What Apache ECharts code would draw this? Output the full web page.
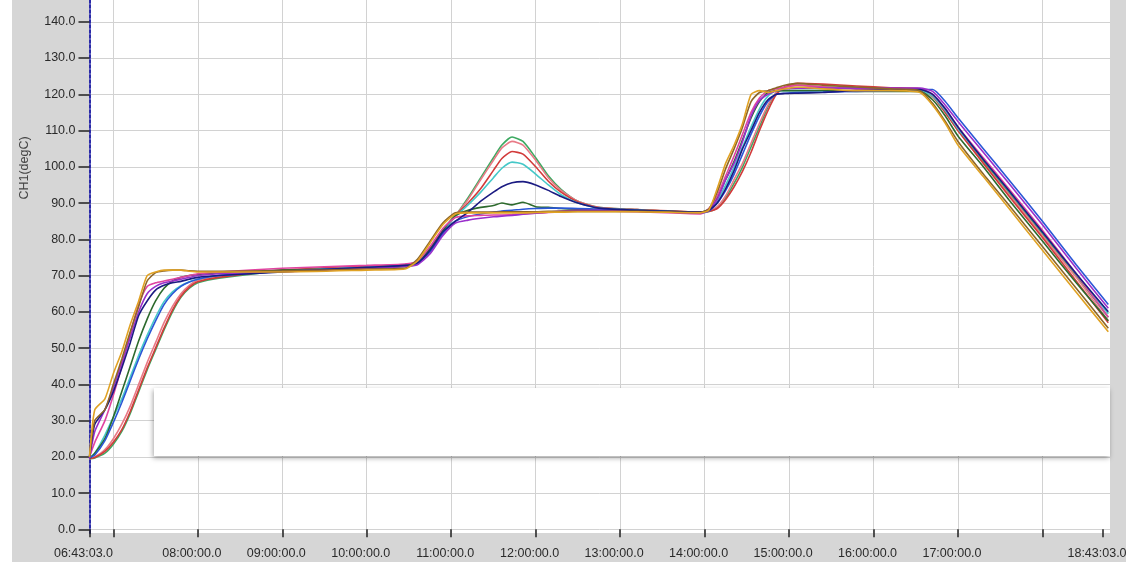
<!DOCTYPE html>
<html>
<head>
<meta charset="utf-8">
<script src="https://cdn.jsdelivr.net/npm/echarts@6/dist/echarts.min.js"></script>
<style>
  html, body { margin: 0; padding: 0; background: #d6d6d6; }
  #chart { width: 1126px; height: 562px; }
</style>
</head>
<body>
<div id="chart"></div>
<script>
// sample times, decimal hours of the day
const times = [
  6.7175, 6.78, 6.9, 7.0, 7.1, 7.2, 7.3, 7.4, 7.5, 7.6,
  7.7, 7.8, 7.9, 8.0, 8.25, 9.0, 10.0, 10.45, 10.6, 10.75,
  10.9, 11.05, 11.2, 11.35, 11.5, 11.6, 11.72, 11.85, 12.0, 12.15,
  12.3, 12.5, 12.75, 13.2, 13.95, 14.05, 14.15, 14.25, 14.35, 14.45,
  14.55, 14.65, 14.75, 14.85, 14.95, 15.1, 15.4, 15.8, 16.2, 16.55,
  16.7, 16.85, 17.0, 17.3, 17.6, 18.0, 18.4, 18.78
];

// temperatures (degC) per channel
const green = [
  19.5, 19.7, 21, 23.5, 27, 32, 38, 44, 49.5, 55,
  60, 64, 66.5, 68, 69.3, 71.3, 72.5, 73, 73.8, 77.5,
  82, 86.5, 91.5, 97, 102.5, 106, 108.2, 107, 102.5, 97.5,
  93.8, 90.5, 88.8, 88.2, 87.5, 87.7, 88.7, 91.5, 95.5, 100,
  105.5, 111, 116.5, 120.5, 122, 122.5, 122, 121.8, 121.5, 121.3,
  119.8, 115.5, 110.5, 101.5, 93, 81.5, 70, 58.5
];
const rose = [
  19.5, 20, 22, 25, 29, 34, 40, 46, 51.5, 57,
  61.5, 65, 67.3, 68.7, 69.8, 71.5, 72.6, 73, 73.8, 77.5,
  82, 86.5, 91, 96.5, 101.8, 105.2, 107, 106, 101.8, 97,
  93.5, 90.5, 88.8, 88.2, 87.5, 87.8, 89, 92, 96.5, 101,
  106.5, 112, 117, 120.5, 122, 122.5, 122, 121.5, 121.3, 121,
  119.3, 115, 110, 101, 92.5, 81, 69.5, 57.5
];
const red = [
  19.5, 19.8, 21.5, 24, 27.5, 32.5, 38.5, 44.5, 50, 55.5,
  60.5, 64.3, 66.8, 68.3, 69.5, 71.5, 72.6, 73, 73.8, 77.5,
  82, 86.5, 90, 94, 99, 102.3, 104.2, 103.5, 100, 96,
  93, 90.3, 88.7, 88.2, 87.5, 87.7, 88.5, 91, 94.5, 98.8,
  104, 110, 115.5, 120, 122, 123, 122.8, 122.3, 121.8, 121.5,
  119.5, 115, 110, 101, 92, 80.5, 68.5, 57
];
const cyan = [
  19.8, 21, 26, 31, 36, 42, 48, 53.5, 58.5, 62.8,
  65.5, 67.2, 68.3, 69, 70, 71.3, 72.3, 72.8, 73.5, 77.5,
  82, 86.3, 89.5, 93, 97, 99.6, 101.3, 100.7, 98, 95,
  92.3, 90, 88.6, 88.1, 87.4, 88, 90.5, 95, 100, 105.5,
  111, 116, 119.5, 121, 121, 121, 121, 121, 121, 121,
  119.5, 115.5, 110.5, 102, 93.5, 82, 70.5, 59.5
];
const darkGreen = [
  19.5, 21, 25, 31, 38, 45, 52, 58, 63, 66.5,
  68.5, 69.5, 70, 70.3, 70.8, 71.5, 72, 72.5, 73.2, 77.5,
  82.5, 86.5, 88, 88.8, 89.3, 90, 89.5, 90.2, 89, 88.8,
  88.5, 88.3, 88.2, 88, 87.4, 88.3, 91.5, 96.5, 101.5, 107.5,
  113.5, 118, 120.5, 121, 121, 121, 121, 120.8, 120.8, 120.8,
  118.5, 114, 108.5, 100, 91, 79.5, 68, 57.5
];
const blue = [
  19.8, 20.5, 24.5, 29.5, 35, 41, 47, 52.5, 57.5, 62,
  65, 67, 68.2, 69, 70, 71.2, 72.2, 72.7, 73.3, 76.5,
  81.5, 85, 86.3, 87, 87.5, 87.8, 88, 88.3, 88.5, 88.6,
  88.6, 88.5, 88.3, 88, 87.3, 87.8, 90, 93.5, 98, 103.5,
  109, 114, 118, 120, 120.3, 120.5, 120.6, 120.8, 121, 121.3,
  121.3, 118, 113.5, 105, 96.5, 85, 73, 62
];
const magenta = [
  20, 24, 30, 37, 45, 54, 62, 67, 68, 68.5,
  69, 69.5, 70, 70.5, 71, 72, 72.8, 73.2, 74, 78,
  83, 86, 86.5, 86.6, 86.7, 86.7, 86.8, 87, 87.2, 87.4,
  87.6, 87.8, 87.8, 87.6, 87, 88.5, 92, 97.5, 103, 109,
  115, 119, 121, 121.5, 122, 122.5, 122, 121.5, 121.5, 121.5,
  120, 116, 111, 102.5, 94, 82.5, 70.5, 58.5
];
const purple = [
  19.5, 27, 33, 39, 46, 53, 60, 65, 67, 68,
  68.5, 69, 69.5, 70, 70.5, 71, 72, 72.5, 73, 76,
  81, 84.5, 85.3, 85.8, 86.2, 86.4, 86.6, 86.9, 87.2, 87.5,
  87.8, 88, 88, 87.8, 87.2, 88, 91, 96.5, 101, 107,
  114, 118.3, 120, 121, 121.5, 121.7, 121.7, 121.7, 121.7, 121.7,
  120.8, 117, 112.5, 104, 95.5, 84, 72, 61
];
const navy = [
  20, 29, 33, 38, 44.5, 51.5, 59, 63, 66, 67.3,
  68, 68.4, 69, 69.5, 70, 71, 72.3, 72.8, 73.5, 77,
  82, 85, 87.5, 90.5, 93, 94.5, 95.6, 95.9, 95, 93.5,
  91.8, 90, 88.6, 88, 87.5, 88, 90, 94, 99, 105,
  110, 115, 118.5, 120, 120.2, 120.3, 120.5, 121, 121.2, 121.3,
  120, 116, 111, 102, 93.5, 82, 70.5, 60
];
const brown = [
  20, 30, 33, 40, 47, 54.5, 61.5, 68.5, 70.8, 71.3,
  71.5, 71.5, 71.3, 71.2, 71.2, 71.3, 71.8, 72, 74.5, 79.5,
  84.5, 87.3, 87.5, 87.5, 87.5, 87.6, 87.6, 87.6, 87.6, 87.7,
  87.7, 87.7, 87.7, 87.7, 87.4, 88.3, 93, 99.5, 105, 111,
  118, 120.5, 121, 121.8, 122.5, 123, 122.5, 122, 121.5, 121,
  117.5, 112.5, 107, 98, 89.5, 78, 66.5, 55.5
];
const orange = [
  20, 33, 36, 43, 49, 56.5, 63, 70, 71, 71.5,
  71.5, 71.5, 71.2, 71, 71, 71, 71.5, 71.8, 74, 79,
  84, 87, 87.3, 87.3, 87.3, 87.3, 87.3, 87.3, 87.4, 87.5,
  87.5, 87.6, 87.6, 87.6, 87.3, 88, 94, 101, 106, 112,
  120, 121, 120.5, 121, 121.5, 122, 121.5, 121, 121, 120.5,
  117, 112, 106, 97.3, 88.6, 77, 65.4, 54.5
];

// axis ticks
const yTicks = [0, 10, 20, 30, 40, 50, 60, 70, 80, 90, 100, 110, 120, 130, 140];
const xTicks = ['06:43:03', '07:00:00', '08:00:00', '09:00:00', '10:00:00', '11:00:00', '12:00:00',
  '13:00:00', '14:00:00', '15:00:00', '16:00:00', '17:00:00', '18:00:00', '18:43:03'];
const xLabels = ['06:43:03', '08:00:00', '09:00:00', '10:00:00', '11:00:00', '12:00:00',
  '13:00:00', '14:00:00', '15:00:00', '16:00:00', '17:00:00', '18:43:03'];
const xGrid = ['07:00:00', '08:00:00', '09:00:00', '10:00:00', '11:00:00', '12:00:00',
  '13:00:00', '14:00:00', '15:00:00', '16:00:00', '17:00:00', '18:00:00'];

function toHours(s) {
  const p = s.split(':').map(Number);
  return p[0] + p[1] / 60 + p[2] / 3600;
}
function pad(n) { return (n < 10 ? '0' : '') + n; }
function fmtTime(v) {
  const t = Math.round(v * 3600);
  return pad(Math.floor(t / 3600)) + ':' + pad(Math.floor(t % 3600 / 60)) + ':' + pad(t % 60) + '.0';
}

const channels = [
  { name: 'green', color: '#3DAA62', values: green },
  { name: 'rose', color: '#E87A86', values: rose },
  { name: 'red', color: '#D23A3A', values: red },
  { name: 'cyan', color: '#45C8C8', values: cyan },
  { name: 'darkGreen', color: '#2D6A2D', values: darkGreen },
  { name: 'blue', color: '#2B57D6', values: blue },
  { name: 'magenta', color: '#E044A0', values: magenta },
  { name: 'purple', color: '#9A2FCB', values: purple },
  { name: 'navy', color: '#1B1B82', values: navy },
  { name: 'brown', color: '#8E6628', values: brown },
  { name: 'orange', color: '#E0A224', values: orange }
];

const xMin = toHours(xTicks[0]);
const xMax = 18.80;
const font = 'Liberation Sans';
const gridColor = '#d2d2d2';

const chart = echarts.init(document.getElementById('chart'));
chart.setOption({
  backgroundColor: '#d6d6d6',
  animation: false,
  grid: {
    left: 89.5, right: 16, top: 0, bottom: 29,
    outerBoundsMode: 'none',
    containLabel: false,
    show: true, backgroundColor: '#ffffff', borderWidth: 0
  },
  xAxis: [
    {
      type: 'value',
      min: xMin,
      max: xMax,
      axisLine: { show: false },
      axisTick: {
        show: true, length: 8,
        customValues: xTicks.map(toHours),
        lineStyle: { color: '#222', width: 1.5 }
      },
      axisLabel: {
        customValues: xLabels.map(toHours),
        formatter: fmtTime,
        margin: 14,
        fontFamily: font, fontSize: 12.5, color: '#2a2a2a',
        padding: [0, 12, 0, 0]
      },
      splitLine: { show: false }
    },
    {
      // hourly grid lines only
      type: 'value',
      min: xMin,
      max: xMax,
      position: 'bottom',
      axisLine: { show: false },
      axisTick: { show: false, customValues: xGrid.map(toHours) },
      axisLabel: { show: false, customValues: xGrid.map(toHours) },
      splitLine: { show: true, lineStyle: { color: gridColor, width: 1 } }
    }
  ],
  yAxis: {
    type: 'value',
    min: -1,
    max: 146,
    axisLine: { show: true, lineStyle: { color: '#2a2aa8', width: 2, type: [3, 2] } },
    axisTick: {
      show: true, length: 11,
      customValues: yTicks,
      lineStyle: { color: '#222', width: 1.5 }
    },
    axisLabel: {
      customValues: yTicks,
      formatter: v => v.toFixed(1),
      margin: 14,
      fontFamily: font, fontSize: 12.5, color: '#2a2a2a'
    },
    splitLine: { show: true, lineStyle: { color: gridColor, width: 1 } }
  },
  graphic: [
    { type: 'rect', z: -10, shape: { x: 0, y: 0, width: 12, height: 562 }, style: { fill: '#ffffff' } },
    {
      type: 'text', x: 25, y: 168, rotation: Math.PI / 2, z: 10,
      style: { text: 'CH1(degC)', fontFamily: font, fontSize: 12.5, fill: '#444', align: 'center', verticalAlign: 'middle' }
    },
    {
      type: 'rect', z: 100,
      shape: { x: 154, y: 388, width: 956, height: 68 },
      style: { fill: '#ffffff', shadowBlur: 5, shadowColor: 'rgba(0,0,0,0.35)', shadowOffsetX: -1, shadowOffsetY: 2 }
    }
  ],
  series: channels.map(c => ({
    name: c.name,
    type: 'line',
    xAxisIndex: 0,
    showSymbol: false,
    smooth: 0.2,
    lineStyle: { color: c.color, width: 1.6 },
    itemStyle: { color: c.color },
    data: times.map((t, i) => [t, c.values[i]])
  }))
});
</script>
</body>
</html>
